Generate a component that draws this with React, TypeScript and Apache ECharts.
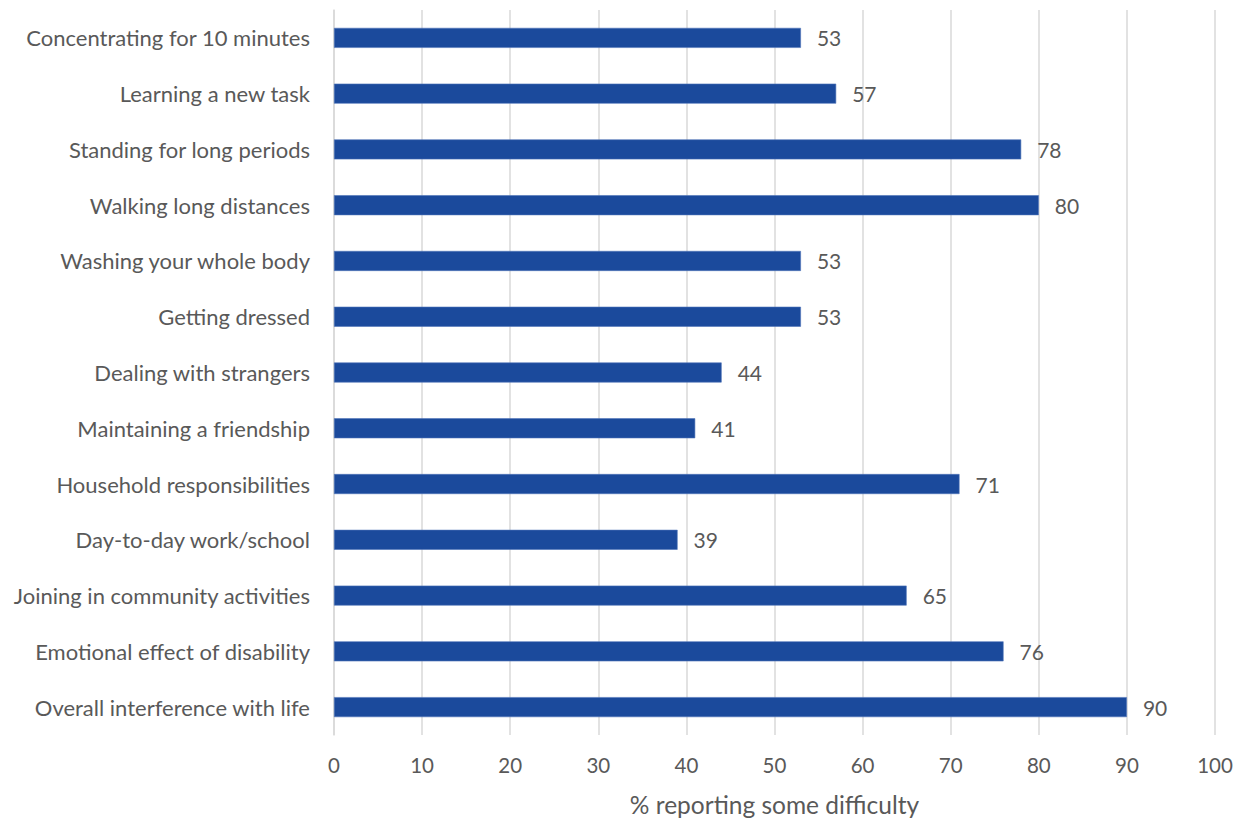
import React, { useEffect, useRef } from "react";
import * as echarts from "echarts";

const categories = [
  "Concentrating for 10 minutes",
  "Learning a new task",
  "Standing for long periods",
  "Walking long distances",
  "Washing your whole body",
  "Getting dressed",
  "Dealing with strangers",
  "Maintaining a friendship",
  "Household responsibilities",
  "Day-to-day work/school",
  "Joining in community activities",
  "Emotional effect of disability",
  "Overall interference with life",
];

const values = [53, 57, 78, 80, 53, 53, 44, 41, 71, 39, 65, 76, 90];

const xAxisTitle = "% reporting some difficulty";

const FONT = "Lato, 'Open Sans', sans-serif";
const TEXT = "#595959";
const GRID = "#d9d9d9";
const BAR = "#1b4a9c";

export default function App() {
  const ref = useRef<HTMLDivElement>(null);

  useEffect(() => {
    if (!ref.current) return;
    const chart = echarts.init(ref.current, undefined, { renderer: "svg" });
    chart.setOption({
      animation: false,
      backgroundColor: "#ffffff",
      textStyle: { fontFamily: FONT, color: TEXT },
      grid: { left: 334, right: 29, top: 10, bottom: 74, containLabel: false },
      xAxis: {
        type: "value",
        min: 0,
        max: 100,
        interval: 10,
        name: xAxisTitle,
        nameLocation: "middle",
        nameGap: 57,
        nameTextStyle: { fontFamily: FONT, fontSize: 24.5, color: TEXT },
        axisLine: { show: false },
        axisTick: { show: false },
        axisLabel: { fontFamily: FONT, fontSize: 20.5, color: TEXT, margin: 19 },
        splitLine: { show: true, lineStyle: { color: GRID, width: 1.5 } },
      },
      yAxis: {
        type: "category",
        data: categories,
        inverse: true,
        axisLine: { show: true, lineStyle: { color: GRID, width: 1.5 } },
        axisTick: { show: false },
        axisLabel: { fontFamily: FONT, fontSize: 22, color: TEXT, margin: 24 },
        splitLine: { show: false },
      },
      series: [
        {
          type: "bar",
          data: values,
          barWidth: 20,
          itemStyle: { color: BAR, borderColor: "#4f74b8", borderWidth: 0.6 },
          label: {
            show: true,
            position: "right",
            distance: 16,
            fontFamily: FONT,
            fontSize: 21,
            color: TEXT,
          },
        },
      ],
    });
    return () => chart.dispose();
  }, []);

  return (
    <div
      ref={ref}
      style={{ position: "fixed", left: 0, top: 0, width: 1244, height: 822 }}
    />
  );
}
